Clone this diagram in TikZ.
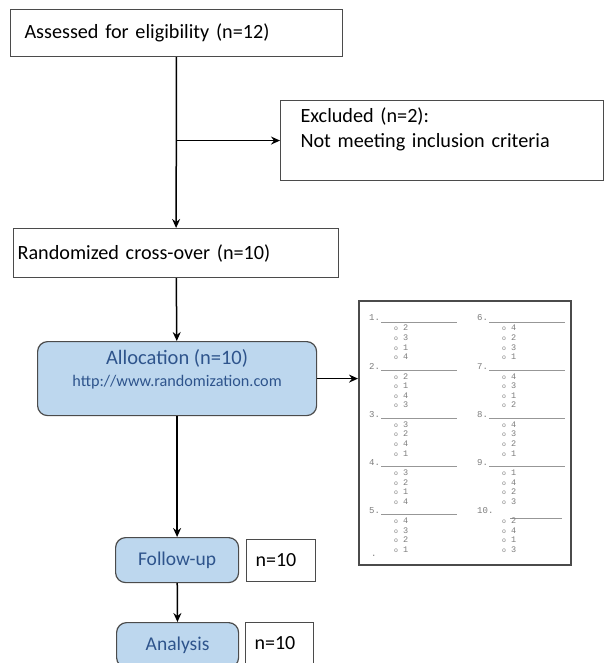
\documentclass[tikz,border=0pt]{standalone}
\usepackage{fontspec}
\setmainfont{Carlito}
\newfontfamily\sheetfont{Liberation Mono}
\usetikzlibrary{arrows.meta}
\definecolor{boxblue}{RGB}{189,215,238}
\definecolor{textblue}{RGB}{46,84,140}
\definecolor{edgegray}{RGB}{75,75,75}
\definecolor{inkgray}{RGB}{125,125,125}
\tikzstyle{plainbox} = [draw=edgegray, line width=1.1pt, fill=white, anchor=north west, inner ysep=0pt, align=left, font=\fontsize{20.2}{25}\selectfont]
\tikzstyle{stepbox} = [draw=edgegray, line width=1.2pt, fill=boxblue, rounded corners=10pt, anchor=north west, inner sep=0pt, align=center, text=textblue, font=\fontsize{20.5}{22}\selectfont]
\tikzstyle{countbox} = [plainbox, inner xsep=9pt, font=\fontsize{20}{20}\selectfont]
\tikzstyle{arr} = [-{Stealth[length=9pt,width=8pt,inset=3pt]}, line width=1.5pt]
\tikzstyle{qnum} = [anchor=west, inner sep=0pt, text=inkgray, font=\sheetfont\fontsize{9}{9}\selectfont]
\tikzstyle{qopt} = [anchor=west, inner sep=0pt, text=inkgray, font=\sheetfont\fontsize{8.5}{9}\selectfont]
\tikzstyle{qline} = [draw=inkgray!80, line width=0.9pt]

\begin{document}
\begin{tikzpicture}[x=1pt, y=-1pt]
    \useasboundingbox (0,0) rectangle (605,663);
    % flow boxes
    \node[plainbox, minimum height=47pt, text width=304pt, inner xsep=14pt] (assess) at (10,9) {Assessed for eligibility (n=12)};
    \node[plainbox, minimum height=80pt, text width=283pt, inner xsep=20pt] (excl) at (280,100) {Excluded (n=2):\\Not meeting inclusion criteria\\\mbox{}};
    \node[plainbox, minimum height=49pt, text width=317pt, inner xsep=4pt] (rand) at (13,228) {Randomized cross-over (n=10)};
    \node[stepbox, minimum width=279pt, minimum height=74pt] (alloc) at (37,341) {Allocation (n=10)\\{\fontsize{16.2}{22}\selectfont http://www.randomization.com}\\\mbox{}};
    \node[stepbox, minimum width=123pt, minimum height=45pt, font=\fontsize{19.5}{22}\selectfont] (follow) at (115,537) {\raisebox{2pt}{Follow-up}};
    \node[countbox, minimum height=42pt, text width=51pt] (nfollow) at (246,539) {n=10};
    \node[stepbox, minimum width=122pt, minimum height=45pt, font=\fontsize{19.5}{22}\selectfont] (anal) at (116,622) {\raisebox{2pt}{Analysis}};
    \node[countbox, minimum height=42pt, text width=50pt] (nanal) at (245,622) {n=10};
    % answer sheet
    \node[draw=edgegray, line width=1.5pt, fill=white, anchor=north west, minimum width=212pt, minimum height=264pt, inner sep=0pt] (sheet) at (358,300) {};
    \foreach \num/\oa/\ob/\oc/\od [count=\i from 0] in {1/2/3/1/4, 2/2/1/4/3, 3/3/2/4/1, 4/3/2/1/4, 5/4/3/2/1, 6/4/2/3/1, 7/4/3/1/2, 8/4/3/2/1, 9/1/4/2/3, 10/2/4/1/3}{
        \pgfmathtruncatemacro{\col}{\i/5}
        \pgfmathtruncatemacro{\row}{mod(\i,5)}
        \pgfmathsetmacro{\qx}{369+108*\col}
        \pgfmathsetmacro{\qy}{318+48.2*\row}
        \node[qnum] (q\num) at (\qx,\qy) {\num.};
        \ifnum\num=10
            \draw[qline] (\qx+33,\qy+8) -- ++(52,0);
        \else
            \draw[qline] (\qx+12,\qy+4) -- ++(76,0);
        \fi
        \foreach \o [count=\j] in {\oa,\ob,\oc,\od}
            \node[qopt] (q\num o\j) at (\qx+25,\qy+0.5+9.6*\j) {{\fontsize{6.5}{7}\selectfont o}\hspace{5pt}\o};
    }
    \node[qnum] (stray) at (371,556) {.};
    % connectors
    \coordinate (branch) at (assess.south |- excl.west);
    \draw[arr] (assess) -- (rand);
    \draw[arr] (branch) -- (excl);
    \draw[arr] (rand) -- (alloc);
    \draw[arr] (alloc) -- (sheet.west |- alloc.east);
    \draw[arr] (alloc) -- (follow);
    \draw[arr] (follow) -- (anal);
\end{tikzpicture}
\end{document}
